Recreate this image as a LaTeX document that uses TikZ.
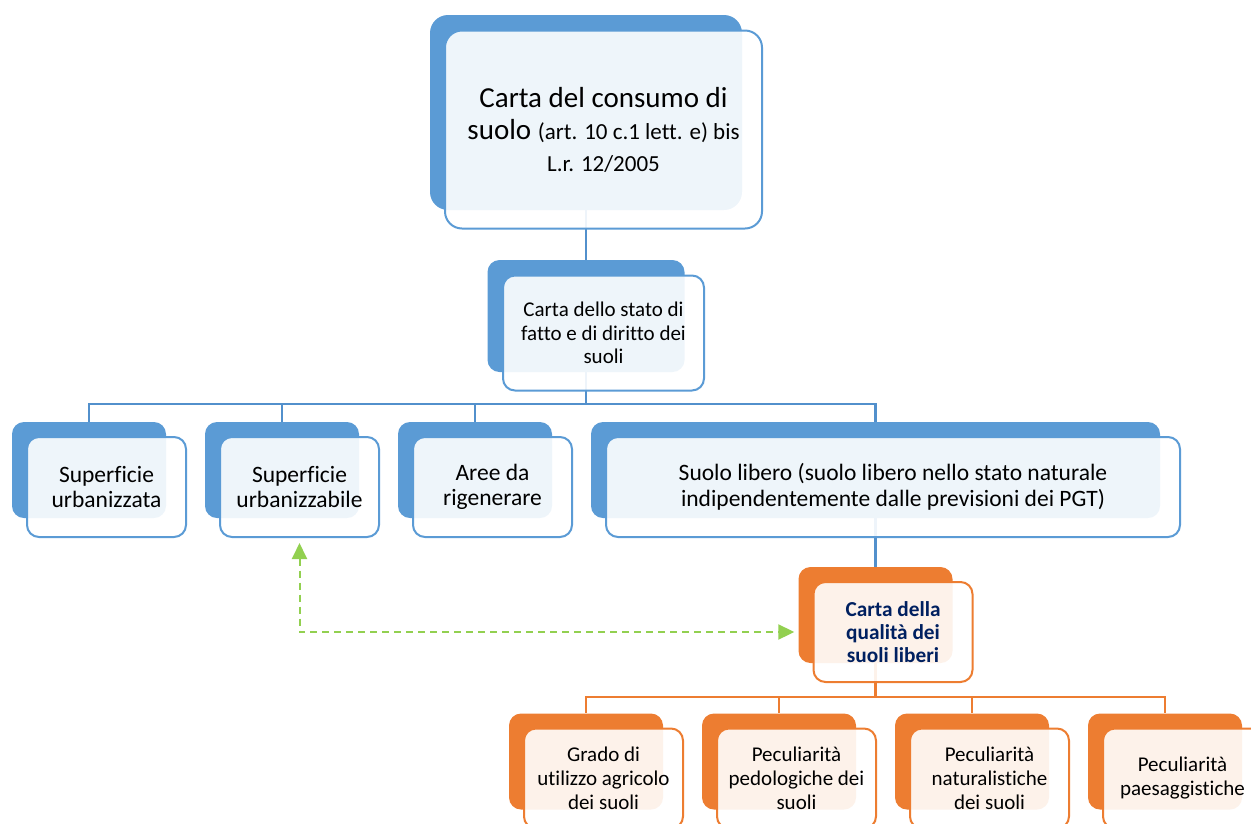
\documentclass[tikz,border=0pt]{standalone}
\usepackage{fontspec}
\setmainfont{Carlito}[Ligatures=NoCommon]
\usetikzlibrary{arrows.meta}

\definecolor{cardblue}{HTML}{5B9BD5}
\definecolor{lineblue}{HTML}{5290CC}
\definecolor{cardorange}{HTML}{ED7D31}
\definecolor{linkgreen}{HTML}{92D050}
\definecolor{navytext}{HTML}{002060}

\tikzset{
  cardback/.style={rounded corners=12pt, fill=#1, inner sep=0pt},
  cardfront/.style={rounded corners=12pt, draw=#1, line width=2pt, fill=white,
    fill opacity=0.9, text opacity=1, align=center, inner sep=0pt,
    xshift=17.5pt, yshift=-17pt},
  unitback/.style={minimum width=154pt, minimum height=96pt},
  unitfront/.style={minimum width=159pt, minimum height=100pt},
  link/.style={draw=#1, line width=2.4pt},
  rowfont/.style={font=\fontsize{23.5}{25.5}\selectfont},
  lowfont/.style={font=\fontsize{21}{24}\selectfont},
}

\begin{document}
\begin{tikzpicture}[x=1pt,y=-1pt,node distance=193pt,
  >={Triangle[length=16pt,width=15pt]}]
\useasboundingbox (0,0) rectangle (1251,823);
\clip (0,0) rectangle (1251,823);

% back cards
\node[cardback=cardblue, rounded corners=18pt, minimum width=312pt, minimum height=195pt] (consb) at (586,112.5) {};
\node[cardback=cardblue, minimum width=197pt, minimum height=112pt] (statob) at (586,316) {};
\node[cardback=cardblue, unitback] (urbzb) at (89,470) {};
\node[cardback=cardblue, unitback] (urbilb) [right of=urbzb] {};
\node[cardback=cardblue, unitback] (rigb) [right of=urbilb] {};
\node[cardback=cardblue, minimum width=569pt, minimum height=96pt] (liberob) at (875.5,470) {};
\node[cardback=cardorange, unitback] (qualb) at (875.5,615) {};
\node[cardback=cardorange, unitback] (agrb) at (586,761.5) {};
\node[cardback=cardorange, unitback] (pedb) [right of=agrb] {};
\node[cardback=cardorange, unitback] (natb) [right of=pedb] {};
\node[cardback=cardorange, unitback] (paesb) [right of=natb] {};

% connectors
\draw[link=lineblue] (consb.south) -- (statob.north);
\foreach \n in {urbzb,urbilb,rigb,liberob}
  \draw[link=lineblue] (statob.south) -- ++(0,32) -| (\n.north);
\draw[link=lineblue] (liberob.south) -- (qualb.north);
\foreach \n in {agrb,pedb,natb,paesb}
  \draw[link=cardorange] (qualb.south) -- ++(0,34) -| (\n.north);

% front cards
\node[cardfront=cardblue, rounded corners=17pt, minimum width=317pt, minimum height=198pt,
  font=\fontsize{29}{32}\selectfont] (consf) at (consb)
  {Carta del consumo di\\suolo {\fontsize{23}{26}\selectfont(art. 10 c.1 lett. e) bis}\\{\fontsize{23}{26}\selectfont L.r. 12/2005}};
\node[cardfront=cardblue, minimum width=201pt, minimum height=115pt,
  font=\fontsize{21}{23.5}\selectfont] (statof) at (statob)
  {Carta dello stato di\\fatto e di diritto dei\\suoli};
\node[cardfront=cardblue, unitfront, rowfont] (urbzf) at (urbzb) {Superficie\\urbanizzata};
\node[cardfront=cardblue, unitfront, rowfont] (urbilf) at (urbilb) {Superficie\\urbanizzabile};
\node[cardfront=cardblue, unitfront, rowfont] (rigf) at (rigb) {Aree da\\rigenerare};
\node[cardfront=cardblue, unitfront, minimum width=574pt, rowfont] (liberof) at (liberob)
  {Suolo libero (suolo libero nello stato naturale\\indipendentemente dalle previsioni dei PGT)};
\node[cardfront=cardorange, unitfront, text=navytext,
  font=\fontsize{21.3}{23}\selectfont\bfseries] (qualf) at (qualb)
  {Carta della\\qualità dei\\suoli liberi};
\node[cardfront=cardorange, unitfront, lowfont] (agrf) at (agrb) {Grado di\\utilizzo agricolo\\dei suoli};
\node[cardfront=cardorange, unitfront, lowfont] (pedf) at (pedb) {Peculiarità\\pedologiche dei\\suoli};
\node[cardfront=cardorange, unitfront, lowfont] (natf) at (natb) {Peculiarità\\naturalistiche\\dei suoli};
\node[cardfront=cardorange, unitfront, lowfont] (paesf) at (paesb) {Peculiarità\\paesaggistiche};

% link between the two maps
\draw[link=linkgreen, line width=2pt, dash pattern=on 7pt off 5pt, <->, shorten >=4pt]
  ([yshift=-5pt]urbilf.south) |- (qualb.west |- qualf.center);
\end{tikzpicture}
\end{document}
